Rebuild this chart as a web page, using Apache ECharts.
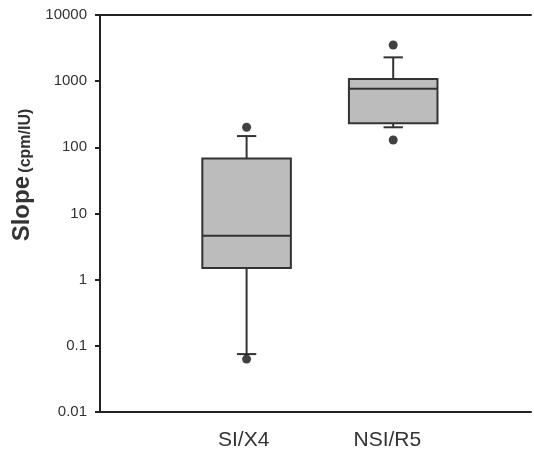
<!DOCTYPE html>
<html>
<head>
<meta charset="utf-8">
<script src="https://cdn.jsdelivr.net/npm/echarts@6/dist/echarts.min.js"></script>
<style>
  html, body { margin: 0; padding: 0; background: #fff; }
  #chart { width: 534px; height: 451px; }
</style>
</head>
<body>
<div id="chart"></div>
<script>
// categories (padded so the two labels sit near 1/3 and 2/3 of the axis)
var categories = ['', 'SI/X4', 'NSI/R5', ''];
var groupIndex = [1, 2];
// whisker low, Q1, median, Q3, whisker high
var lowWhisker = [0.075, 201];
var q1 = [1.5, 231];
var median = [4.6, 770];
var q3 = [68, 1080];
var highWhisker = [148, 2290];
// outlier points
var outlierGroup = [1, 1, 2, 2];
var outlierValue = [201, 0.063, 3520, 129];
var yTicks = [0.01, 0.1, 1, 10, 100, 1000, 10000];

var boxData = [];
for (var i = 0; i < groupIndex.length; i++) {
  boxData.push([groupIndex[i], lowWhisker[i], q1[i], median[i], q3[i], highWhisker[i]]);
}
var outlierData = [];
for (var j = 0; j < outlierGroup.length; j++) {
  outlierData.push([outlierGroup[j], outlierValue[j]]);
}

function renderBox(params, api) {
  var x = api.value(0);
  var unit = api.size([1, 0])[0];
  var half = unit * 0.302;
  var capHalf = unit * 0.066;
  var pLow = api.coord([x, api.value(1)]);
  var pQ1 = api.coord([x, api.value(2)]);
  var pMed = api.coord([x, api.value(3)]);
  var pQ3 = api.coord([x, api.value(4)]);
  var pHigh = api.coord([x, api.value(5)]);
  var cx = pMed[0];
  var line = { stroke: '#333', lineWidth: 2 };
  return {
    type: 'group',
    children: [
      { type: 'line', shape: { x1: cx, y1: pQ1[1], x2: cx, y2: pLow[1] }, style: line },
      { type: 'line', shape: { x1: cx, y1: pQ3[1], x2: cx, y2: pHigh[1] }, style: line },
      { type: 'line', shape: { x1: cx - capHalf, y1: pLow[1], x2: cx + capHalf, y2: pLow[1] }, style: line },
      { type: 'line', shape: { x1: cx - capHalf, y1: pHigh[1], x2: cx + capHalf, y2: pHigh[1] }, style: line },
      { type: 'rect', shape: { x: cx - half, y: pQ3[1], width: half * 2, height: pQ1[1] - pQ3[1] },
        style: { fill: '#bcbcbc', stroke: '#333', lineWidth: 2 } },
      { type: 'line', shape: { x1: cx - half, y1: pMed[1], x2: cx + half, y2: pMed[1] }, style: line }
    ]
  };
}

var font = 'Liberation Sans, Arial, sans-serif';
var option = {
  animation: false,
  backgroundColor: '#fff',
  grid: { left: 100, top: 15, right: 0, bottom: 39, containLabel: false },
  xAxis: [
    {
      type: 'category',
      data: categories,
      boundaryGap: false,
      position: 'bottom',
      axisLine: { lineStyle: { color: '#222', width: 2 } },
      axisTick: { show: false },
      axisLabel: {
        interval: 0,
        color: '#333',
        fontSize: 21,
        fontFamily: font,
        margin: 18
      },
      splitLine: { show: false }
    },
    {
      // value axis that places the boxes
      type: 'value',
      min: 0,
      max: 2.94,
      position: 'top',
      axisLine: { show: true, onZero: false, lineStyle: { color: '#222', width: 2 } },
      axisTick: { show: false },
      axisLabel: { show: false },
      splitLine: { show: false }
    }
  ],
  yAxis: {
    type: 'log',
    logBase: 10,
    min: 0.01,
    max: 10000,
    name: '{a|Slope} {b|(cpm/IU)}',
    nameLocation: 'middle',
    nameGap: 64,
    nameTextStyle: {
      padding: [0, 0, 0, 77],
      rich: {
        a: { fontSize: 24, fontWeight: 'bold', color: '#333', fontFamily: font },
        b: { fontSize: 16, fontWeight: 'bold', color: '#333', fontFamily: font, verticalAlign: 'bottom', padding: [0, 0, 1, 0] }
      }
    },
    axisLine: { show: true, lineStyle: { color: '#222', width: 2 } },
    axisTick: { show: true, length: 5, inside: false, lineStyle: { color: '#222', width: 2 } },
    axisLabel: {
      color: '#333',
      fontSize: 15,
      fontFamily: font,
      margin: 13,
      formatter: function (v) {
        for (var k = 0; k < yTicks.length; k++) {
          if (Math.abs(Math.log10(v) - Math.log10(yTicks[k])) < 1e-6) return String(yTicks[k]);
        }
        return '';
      }
    },
    splitLine: { show: false },
    minorTick: { show: false }
  },
  series: [
    {
      type: 'custom',
      xAxisIndex: 1,
      renderItem: renderBox,
      encode: { x: 0, y: [1, 2, 3, 4, 5] },
      data: boxData,
      z: 2
    },
    {
      type: 'scatter',
      xAxisIndex: 1,
      data: outlierData,
      symbol: 'circle',
      symbolSize: 9,
      itemStyle: { color: '#111' },
      z: 3
    }
  ]
};

var myChart = echarts.init(document.getElementById('chart'));
myChart.setOption(option);
</script>
</body>
</html>
